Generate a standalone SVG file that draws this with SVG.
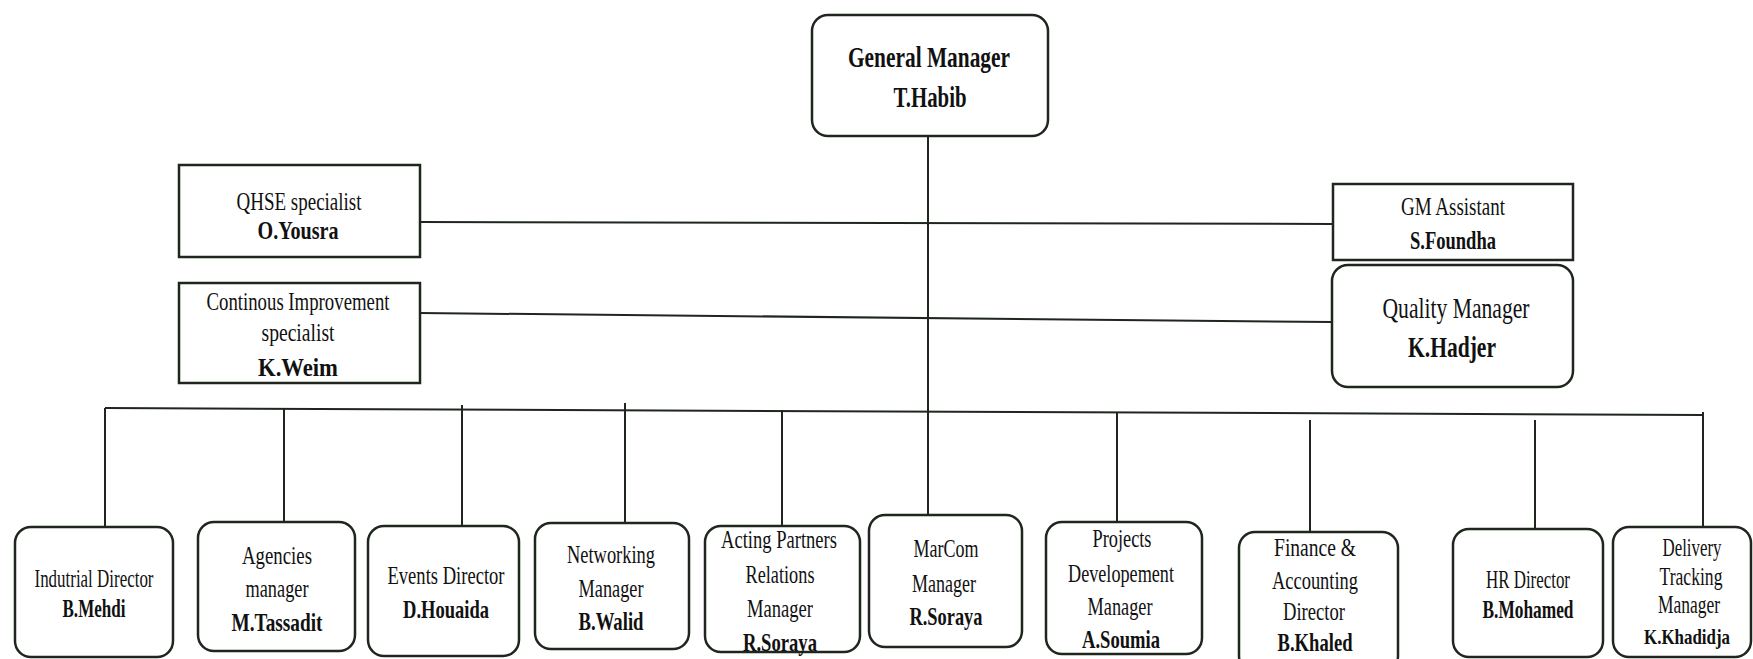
<svg xmlns="http://www.w3.org/2000/svg" width="1753" height="659" viewBox="0 0 1753 659">
<style>
.box{fill:#fff;stroke:#1e261e;stroke-width:2.5}
.ln{stroke:#1e261e;stroke-width:2;fill:none}
text{font-family:"Liberation Serif","Times New Roman",serif;fill:#111;text-anchor:middle}
.r{font-size:26px}
.b{font-size:26px;font-weight:bold}
.gm{font-size:30px;font-weight:bold}
.q{font-size:29px}
.qb{font-size:29px;font-weight:bold}
</style>
<rect width="1753" height="659" fill="#fff"/>
<g id="connectors">
<line class="ln" x1="928" y1="136" x2="928" y2="515"/>
<line class="ln" x1="420" y1="222" x2="1333" y2="224"/>
<line class="ln" x1="420" y1="313" x2="1332" y2="322"/>
<line class="ln" x1="105" y1="408" x2="1703" y2="415"/>
<line class="ln" x1="105" y1="408" x2="105" y2="527"/>
<line class="ln" x1="284" y1="408" x2="284" y2="522"/>
<line class="ln" x1="462" y1="405" x2="462" y2="526"/>
<line class="ln" x1="625" y1="403" x2="625" y2="523"/>
<line class="ln" x1="782" y1="410" x2="782" y2="526"/>
<line class="ln" x1="1117" y1="412" x2="1117" y2="522"/>
<line class="ln" x1="1310" y1="420" x2="1310" y2="532"/>
<line class="ln" x1="1535" y1="420" x2="1535" y2="529"/>
<line class="ln" x1="1703" y1="412" x2="1703" y2="527"/>
</g>
<g id="gm">
<rect class="box" x="812" y="15" width="236" height="121" rx="16"/>
<text class="gm" x="929" y="67" textLength="162" lengthAdjust="spacingAndGlyphs">General Manager</text>
<text class="gm" x="930" y="107" textLength="73" lengthAdjust="spacingAndGlyphs">T.Habib</text>
</g>
<g id="qhse">
<rect class="box" x="179" y="165" width="241" height="92"/>
<text class="r" x="299" y="210" textLength="125" lengthAdjust="spacingAndGlyphs">QHSE specialist</text>
<text class="b" x="298" y="239" textLength="81" lengthAdjust="spacingAndGlyphs">O.Yousra</text>
</g>
<g id="ci">
<rect class="box" x="179" y="283" width="241" height="100"/>
<text class="r" x="298" y="310" textLength="183" lengthAdjust="spacingAndGlyphs">Continous Improvement</text>
<text class="r" x="298" y="341" textLength="73" lengthAdjust="spacingAndGlyphs">specialist</text>
<text class="b" x="298" y="376" textLength="80" lengthAdjust="spacingAndGlyphs">K.Weim</text>
</g>
<g id="gma">
<rect class="box" x="1333" y="184" width="240" height="76"/>
<text class="r" x="1453" y="215" textLength="104" lengthAdjust="spacingAndGlyphs">GM Assistant</text>
<text class="b" x="1453" y="249" textLength="86" lengthAdjust="spacingAndGlyphs">S.Foundha</text>
</g>
<g id="qm">
<rect class="box" x="1332" y="265" width="241" height="122" rx="16"/>
<text class="q" x="1456" y="318" textLength="147" lengthAdjust="spacingAndGlyphs">Quality Manager</text>
<text class="qb" x="1452" y="357" textLength="88" lengthAdjust="spacingAndGlyphs">K.Hadjer</text>
</g>
<g id="industrial">
<rect class="box" x="15" y="527" width="158" height="130" rx="16"/>
<text class="r" x="94" y="587" textLength="119" lengthAdjust="spacingAndGlyphs">Indutrial Director</text>
<text class="b" x="94" y="617" textLength="63" lengthAdjust="spacingAndGlyphs">B.Mehdi</text>
</g>
<g id="agencies">
<rect class="box" x="198" y="522" width="157" height="129" rx="16"/>
<text class="r" x="277" y="564" textLength="70" lengthAdjust="spacingAndGlyphs">Agencies</text>
<text class="r" x="277" y="597" textLength="63" lengthAdjust="spacingAndGlyphs">manager</text>
<text class="b" x="277" y="631" textLength="91" lengthAdjust="spacingAndGlyphs">M.Tassadit</text>
</g>
<g id="events">
<rect class="box" x="368" y="526" width="151" height="130" rx="16"/>
<text class="r" x="446" y="584" textLength="117" lengthAdjust="spacingAndGlyphs">Events Director</text>
<text class="b" x="446" y="618" textLength="86" lengthAdjust="spacingAndGlyphs">D.Houaida</text>
</g>
<g id="networking">
<rect class="box" x="535" y="523" width="154" height="126" rx="16"/>
<text class="r" x="611" y="563" textLength="88" lengthAdjust="spacingAndGlyphs">Networking</text>
<text class="r" x="611" y="597" textLength="65" lengthAdjust="spacingAndGlyphs">Manager</text>
<text class="b" x="611" y="630" textLength="65" lengthAdjust="spacingAndGlyphs">B.Walid</text>
</g>
<g id="acting">
<rect class="box" x="705" y="526" width="155" height="126" rx="16"/>
<text class="r" x="779" y="548" textLength="116" lengthAdjust="spacingAndGlyphs">Acting Partners</text>
<text class="r" x="780" y="583" textLength="69" lengthAdjust="spacingAndGlyphs">Relations</text>
<text class="r" x="780" y="617" textLength="66" lengthAdjust="spacingAndGlyphs">Manager</text>
<text class="b" x="780" y="651" textLength="74" lengthAdjust="spacingAndGlyphs">R.Soraya</text>
</g>
<g id="marcom">
<rect class="box" x="869" y="515" width="153" height="132" rx="16"/>
<text class="r" x="946" y="557" textLength="65" lengthAdjust="spacingAndGlyphs">MarCom</text>
<text class="r" x="944" y="592" textLength="64" lengthAdjust="spacingAndGlyphs">Manager</text>
<text class="b" x="946" y="625" textLength="73" lengthAdjust="spacingAndGlyphs">R.Soraya</text>
</g>
<g id="projects">
<rect class="box" x="1046" y="522" width="156" height="132" rx="16"/>
<text class="r" x="1122" y="547" textLength="59" lengthAdjust="spacingAndGlyphs">Projects</text>
<text class="r" x="1121" y="582" textLength="106" lengthAdjust="spacingAndGlyphs">Developement</text>
<text class="r" x="1120" y="615" textLength="65" lengthAdjust="spacingAndGlyphs">Manager</text>
<text class="b" x="1121" y="648" textLength="78" lengthAdjust="spacingAndGlyphs">A.Soumia</text>
</g>
<g id="finance">
<rect class="box" x="1239" y="532" width="159" height="140" rx="16"/>
<text class="r" x="1315" y="556" textLength="82" lengthAdjust="spacingAndGlyphs">Finance &amp;</text>
<text class="r" x="1315" y="589" textLength="86" lengthAdjust="spacingAndGlyphs">Accounting</text>
<text class="r" x="1314" y="620" textLength="62" lengthAdjust="spacingAndGlyphs">Director</text>
<text class="b" x="1315" y="651" textLength="75" lengthAdjust="spacingAndGlyphs">B.Khaled</text>
</g>
<g id="hr">
<rect class="box" x="1453" y="529" width="150" height="128" rx="16"/>
<text class="r" x="1528" y="588" textLength="84" lengthAdjust="spacingAndGlyphs">HR Director</text>
<text class="b" x="1528" y="618" textLength="91" lengthAdjust="spacingAndGlyphs">B.Mohamed</text>
</g>
<g id="delivery">
<rect class="box" x="1613" y="527" width="138" height="130" rx="16"/>
<text class="r" x="1692" y="556" textLength="59" lengthAdjust="spacingAndGlyphs">Delivery</text>
<text class="r" x="1691" y="585" textLength="63" lengthAdjust="spacingAndGlyphs">Tracking</text>
<text class="r" x="1689" y="613" textLength="62" lengthAdjust="spacingAndGlyphs">Manager</text>
<text x="1687" y="644" font-size="22" font-weight="bold" textLength="86" lengthAdjust="spacingAndGlyphs">K.Khadidja</text>
</g>
</svg>
